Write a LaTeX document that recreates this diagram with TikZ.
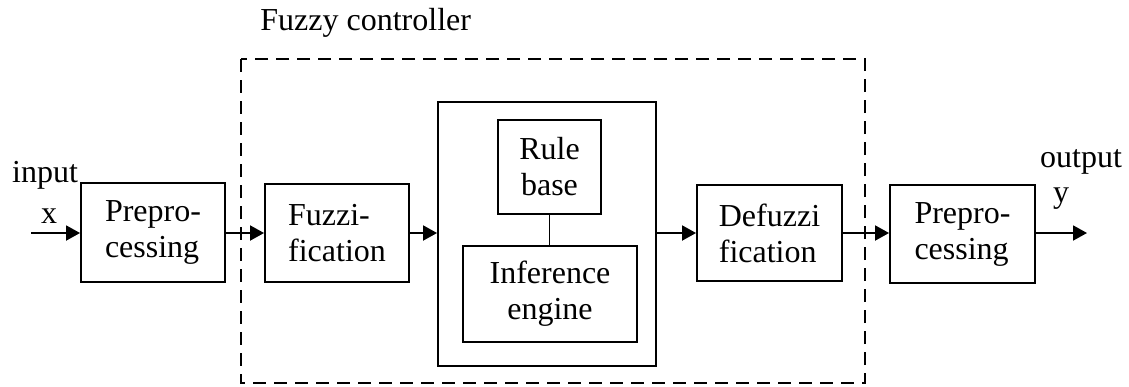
\documentclass[tikz,border=0pt]{standalone}
\usepackage{fontspec}
\setmainfont{Liberation Serif}
\usetikzlibrary{arrows.meta}
\begin{document}
\begin{tikzpicture}[x=0.5pt,y=-0.5pt,
  every node/.style={font=\fontsize{16pt}{18pt}\selectfont},
  blk/.style={draw,line width=0.95pt,align=center,inner sep=0pt},
  lblk/.style={blk,align=left},
  conn/.style={line width=0.95pt},
  flow/.style={conn,-{Triangle[length=7pt,width=7.5pt]}},
  lbl/.style={anchor=base,inner sep=0pt}]
\useasboundingbox (0,0) rectangle (1129,386);

% fuzzy controller frame
\draw[line width=0.95pt,dash pattern=on 6.5pt off 4pt] (241,59) rectangle (865,383);
\node[lbl,anchor=base west] (title) at (260,30) {Fuzzy controller};

% processing chain
\node[lblk,minimum width=72pt,minimum height=49.5pt] (pre1) at (153,232.5) {Prepro-\\cessing};
\node[lblk,minimum width=72pt,minimum height=49pt] (fuz) at (337,233) {Fuzzi-\\fication};
\node[blk,minimum width=109pt,minimum height=132pt] (core) at (547,234) {};
\node[blk,minimum width=51.5pt,minimum height=47pt] (rule) at (549.5,167) {Rule\\base};
\node[blk,minimum width=87pt,minimum height=48pt] (inf) at (550,294) {Inference\\engine};
\node[lblk,minimum width=72.5pt,minimum height=48pt] (defuz) at (769.5,233) {Defuzzi\\fication};
\node[lblk,minimum width=72.5pt,minimum height=49pt] (pre2) at (962.5,234) {Prepro-\\cessing};

% signal terminals
\coordinate (in) at (31,233);
\coordinate (out) at (1087,233);
\node[lbl] (inlbl) at (45,182) {input};
\node[lbl] (xlbl) at (49,223) {x};
\node[lbl] (outlbl) at (1081,167) {output};
\node[lbl] (ylbl) at (1061,202) {y};

% connectors
\draw[flow] (in) -- (in -| pre1.west);
\draw[flow] (pre1.east |- fuz.west) -- (fuz.west);
\draw[flow] (fuz.east) -- (fuz.east -| core.west);
\draw[flow] (core.east |- defuz.west) -- (defuz.west);
\draw[flow] (defuz.east) -- (defuz.east -| pre2.west);
\draw[flow] (pre2.east |- out) -- (out);
\draw[conn] (rule.south) -- (rule.south |- inf.north);
\end{tikzpicture}
\end{document}
